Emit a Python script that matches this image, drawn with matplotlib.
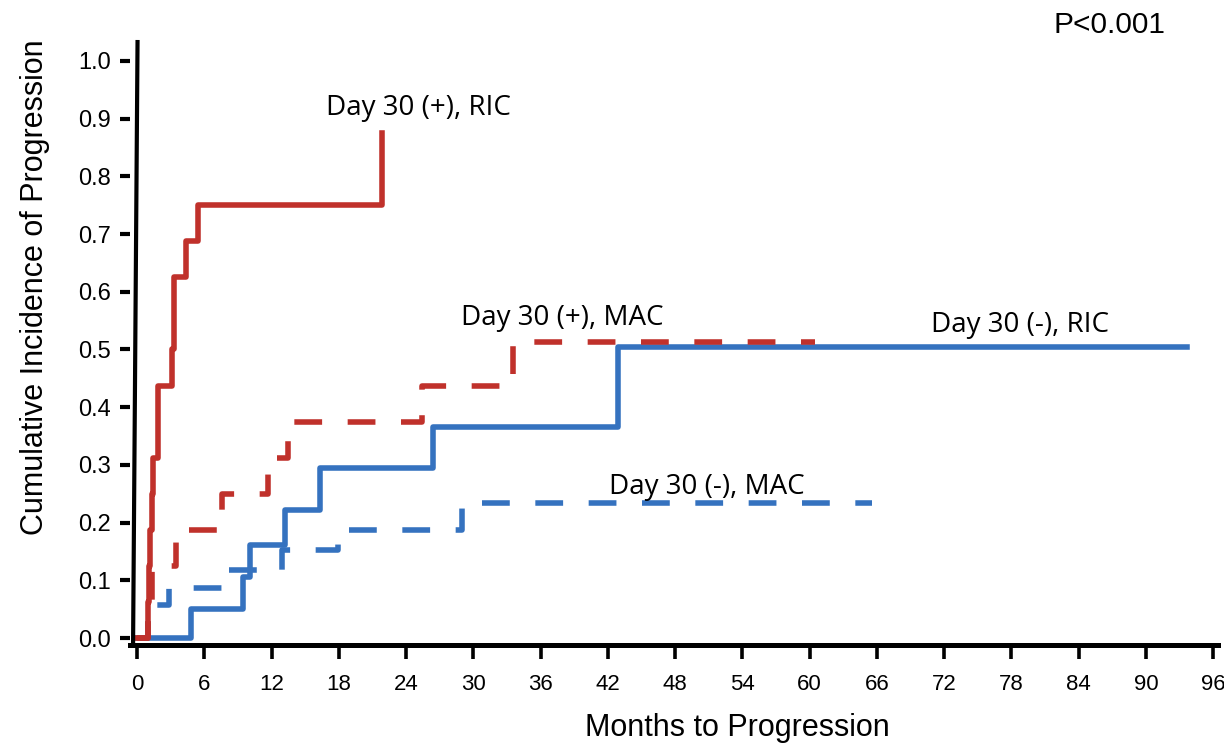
import matplotlib
matplotlib.use("Agg")
import matplotlib.pyplot as plt

# Cumulative incidence curves (months, incidence)
ric_pos_t = [0, 1.0, 1.1, 1.2, 1.3, 1.4, 1.9, 3.1, 3.3, 4.4, 5.4, 21.9]
ric_pos_v = [0, 0.0625, 0.125, 0.1875, 0.25, 0.3125, 0.4375, 0.5, 0.625, 0.6875, 0.75, 0.875]

mac_pos_t = [0, 1.0, 1.3, 3.5, 7.6, 11.7, 13.5, 25.4, 33.5, 60.5]
mac_pos_v = [0, 0.0625, 0.125, 0.1875, 0.25, 0.3125, 0.375, 0.4375, 0.513, 0.513]

ric_neg_t = [0, 4.8, 9.5, 10.1, 13.2, 16.3, 26.4, 42.9, 93.7]
ric_neg_v = [0, 0.05, 0.105, 0.161, 0.222, 0.295, 0.366, 0.504, 0.504]

mac_neg_t = [0, 1.0, 2.9, 8.0, 12.9, 17.9, 29.0, 65.6]
mac_neg_v = [0, 0.057, 0.087, 0.118, 0.152, 0.187, 0.234, 0.234]

x_ticks = list(range(0, 97, 6))
y_ticks = [i / 10 for i in range(11)]

RED = "#C0312B"
BLUE = "#3572BF"
SANS = ["Liberation Sans", "DejaVu Sans"]
LABEL_FONT = ["Open Sans", "DejaVu Sans"]

plt.rcParams["font.family"] = SANS

fig = plt.figure(figsize=(12.24, 7.43), dpi=100)
ax = fig.add_axes([0.1062, 0.1319, 0.8889, 0.8143])

lw = 4.0
dash = (0, (5.0, 4.6))
ax.plot(mac_neg_t, mac_neg_v, drawstyle="steps-post", color=BLUE, lw=lw,
        linestyle=dash, dash_capstyle="butt")
ax.plot(ric_neg_t, ric_neg_v, drawstyle="steps-post", color=BLUE, lw=lw)
ax.plot(mac_pos_t, mac_pos_v, drawstyle="steps-post", color=RED, lw=lw,
        linestyle=dash, dash_capstyle="butt")
ax.plot(ric_pos_t, ric_pos_v, drawstyle="steps-post", color=RED, lw=lw)

ax.set_xlim(-0.624, 96.43)
ax.set_ylim(-0.0121, 1.0364)

# y axis line drawn by hand, slightly apart from the tick marks
ax.plot([0.05, -0.35], [1.0364, -0.0121], color="black", lw=3.0,
        clip_on=False, solid_capstyle="butt")
for side in ["top", "right", "left"]:
    ax.spines[side].set_visible(False)
ax.spines["bottom"].set_linewidth(3.6)

ax.set_xticks(x_ticks)
ax.set_xticklabels([str(t) for t in x_ticks])
ax.set_yticks(y_ticks)
ax.set_yticklabels([f"{v:.1f}" for v in y_ticks])
ax.tick_params(axis="x", direction="out", length=10, width=2.6, pad=11,
               labelsize=16)
ax.tick_params(axis="y", direction="out", length=7.5, width=3.0, pad=6,
               labelsize=17)

fig.text(737 / 1224, 1 - 728 / 743, "Months to Progression", fontsize=22,
         ha="center", va="center")
fig.text(35 / 1224, 1 - 287 / 743, "Cumulative Incidence of Progression",
         fontsize=22, rotation=90, ha="center", va="center")

ax.text(25.1, 0.9185, "Day 30 (+), RIC", fontsize=20, family=LABEL_FONT,
        ha="center", va="center")
ax.text(37.9, 0.5546, "Day 30 (+), MAC", fontsize=20, family=LABEL_FONT,
        ha="center", va="center")
ax.text(78.8, 0.5425, "Day 30 (-), RIC", fontsize=20, family=LABEL_FONT,
        ha="center", va="center")
ax.text(50.8, 0.2617, "Day 30 (-), MAC", fontsize=20, family=LABEL_FONT,
        ha="center", va="center")

fig.text(1110 / 1224, 1 - 25 / 743, "P<0.001", fontsize=21.5,
         ha="center", va="center")

fig.savefig("out.png", dpi=100)
